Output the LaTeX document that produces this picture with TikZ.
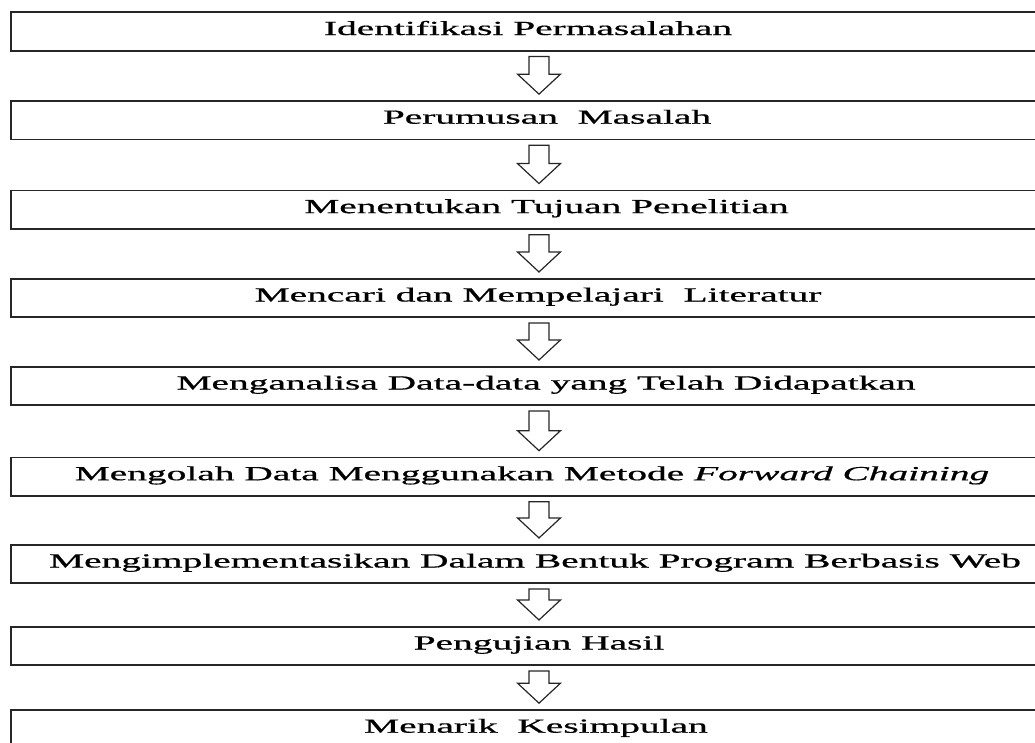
\documentclass[tikz,border=0pt]{standalone}
\usepackage{fontspec}
\setmainfont{Liberation Serif}[FakeBold=0.6]
\usetikzlibrary{calc}
% wide lettering: the step labels are stretched horizontally
\newcommand{\widetext}[1]{\scalebox{1.97}[1]{#1}}
\begin{document}
\begin{tikzpicture}[x=1pt,y=-1pt,
  stepbox/.style={draw=black!85, line width=1.6pt, minimum width=1056pt,
    minimum height=38.5pt, inner sep=0pt, text height=12pt, text depth=5pt,
    font=\fontsize{20}{24}\selectfont},
  nudge/.style={execute at begin node={\hspace*{#1}}},
  flowarrow/.style={draw=black!85, line width=1.2pt, fill=white, line join=miter}]
\useasboundingbox (0,0) rectangle (1035,742);

% process steps, top to bottom (nudge moves a label sideways by half its value)
\node[stepbox,nudge=-22pt] (s1) at (539,31.5)  {\widetext{Identifikasi Permasalahan}};
\node[stepbox,nudge=16pt]  (s2) at (539,120.2) {\widetext{Perumusan\ \ Masalah}};
\node[stepbox,nudge=15pt]  (s3) at (539,209.6) {\widetext{Menentukan Tujuan Penelitian}};
\node[stepbox,nudge=-2pt]  (s4) at (539,298)   {\widetext{Mencari dan Mempelajari\ \ Literatur}};
\node[stepbox,nudge=14pt]  (s5) at (539,386)   {\widetext{Menganalisa Data-data yang Telah Didapatkan}};
\node[stepbox,nudge=-14pt] (s6) at (539,476.7) {\widetext{Mengolah Data Menggunakan Metode \textit{Forward Chaining}}};
\node[stepbox,nudge=-8pt]  (s7) at (539,564)   {\widetext{Mengimplementasikan Dalam Bentuk Program Berbasis Web}};
\node[stepbox]             (s8) at (539,646)   {\widetext{Pengujian Hasil}};
\node[stepbox,nudge=-6pt]  (s9) at (539,729.2) {\widetext{Menarik\ \ Kesimpulan}};

% hollow block arrows between consecutive steps
\foreach \a/\b in {s1/s2,s2/s3,s3/s4,s4/s5,s5/s6,s6/s7,s7/s8,s8/s9}{
  \draw[flowarrow] let \p1=(\a.south), \p2=(\b.north) in
    (\x1-10pt,\y1-5pt) -- (\x1+10pt,\y1-5pt) -- (\x1+10pt,\y2+26pt)
    -- (\x1+21.5pt,\y2+26pt) -- (\x1,\y2+6pt) -- (\x1-21.5pt,\y2+26pt)
    -- (\x1-10pt,\y2+26pt) -- cycle;
}
\end{tikzpicture}
\end{document}
